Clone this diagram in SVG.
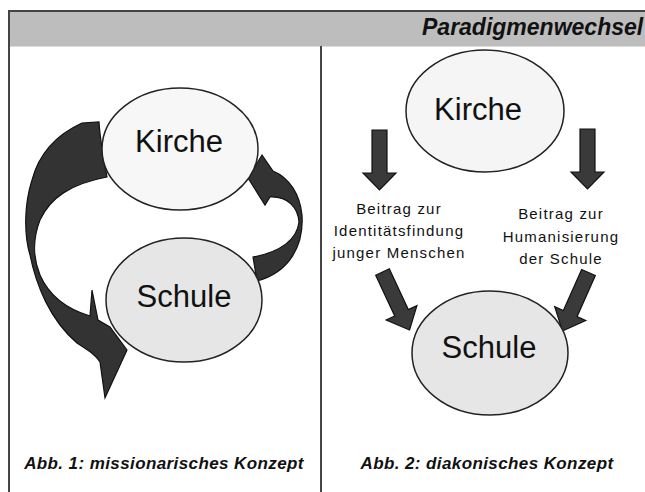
<svg xmlns="http://www.w3.org/2000/svg" width="645" height="492" viewBox="0 0 645 492">
<defs>
<style>
.bg{fill:#ffffff}
.frame{stroke:#444;stroke-width:2;fill:none}
.ell{stroke:#222;stroke-width:1.5}
.lbl{font-family:"Liberation Sans",Arial,sans-serif;fill:#111;text-anchor:middle}
.big{font-size:31px}
.small{font-size:15px;letter-spacing:1.2px}
.cap{font-family:"Liberation Sans",Arial,sans-serif;font-weight:bold;font-style:italic;font-size:17px;letter-spacing:0.4px;fill:#111;text-anchor:middle}
.arr{fill:#3a3a3a;stroke:#111;stroke-width:1.2;stroke-linejoin:miter}
.swirl{fill:#333;stroke:#111;stroke-width:1.2}
</style>
<path id="varr" d="M -7.5,0 H 7.5 V 43 H 16.5 L 0,60 L -16.5,43 H -7.5 Z"/>
<path id="darr" d="M -7.5,0 H 7.5 V 45 H 17 L 0,64 L -17,45 H -7.5 Z"/>
</defs>
<rect class="bg" x="0" y="0" width="645" height="492"/>
<g id="header">
<rect x="9" y="11" width="640" height="35" fill="#bdbdbd"/>
<line x1="8" y1="11" x2="645" y2="11" stroke="#444" stroke-width="2"/>
<line x1="9" y1="46.5" x2="645" y2="46.5" stroke="#dcdcdc" stroke-width="1"/>
<text x="422" y="35" font-family="'Liberation Sans',Arial,sans-serif" font-weight="bold" font-style="italic" font-size="23" fill="#111">Paradigmenwechsel</text>
</g>
<g id="frame">
<line x1="9" y1="10" x2="9" y2="492" stroke="#444" stroke-width="2"/>
<line x1="321" y1="46" x2="321" y2="492" stroke="#444" stroke-width="2"/>
</g>
<g id="connectors">
<path class="swirl" d="M 82,123 C 60,133 40,150 32,180 C 24,205 24,235 30,255 C 36,285 50,320 77,343 C 88,350 96,355 100,362 L 105,398 L 127,350 L 110,327 L 98,320 L 92,290 L 90,316 C 70,310 50,298 40,275 C 33,258 33,238 40,220 C 50,198 70,184 107,177 C 104,160 100,140 99,122 Z"/>
<path class="swirl" d="M 262,155 L 273,171 C 290,178 300,195 302,215 C 304,245 290,272 257,281 L 253,257 C 280,252 297,240 299,222 C 298,208 288,196 270,197 L 265,205 L 248,178 Z"/>
<use href="#varr" class="arr" transform="translate(379.5,130)"/>
<use href="#varr" class="arr" transform="translate(587.5,129)"/>
<use href="#darr" class="arr" transform="translate(382.5,272) rotate(-25)"/>
<use href="#darr" class="arr" transform="translate(588.5,272.5) rotate(24)"/>
</g>
<g id="kirche1">
<ellipse class="ell" cx="180" cy="149" rx="78" ry="61" fill="#f7f7f7"/>
<text class="lbl big" x="179" y="152">Kirche</text>
</g>
<g id="schule1">
<ellipse class="ell" cx="184" cy="300" rx="78" ry="62" fill="#e6e6e6"/>
<text class="lbl big" x="184" y="307">Schule</text>
</g>
<g id="kirche2">
<ellipse class="ell" cx="485" cy="111" rx="79" ry="61" fill="#f5f5f5"/>
<text class="lbl big" x="478" y="120">Kirche</text>
</g>
<g id="schule2">
<ellipse class="ell" cx="490" cy="353" rx="78" ry="62" fill="#e6e6e6"/>
<text class="lbl big" x="489" y="358">Schule</text>
</g>
<g id="label1">
<text class="lbl small" x="399" y="214">Beitrag zur</text>
<text class="lbl small" x="399" y="236">Identitätsfindung</text>
<text class="lbl small" x="399" y="258">junger Menschen</text>
</g>
<g id="label2">
<text class="lbl small" x="561" y="219">Beitrag zur</text>
<text class="lbl small" x="561" y="242">Humanisierung</text>
<text class="lbl small" x="561" y="264">der Schule</text>
</g>
<g id="captions">
<text class="cap" x="164" y="469">Abb. 1: missionarisches Konzept</text>
<text class="cap" x="487" y="469">Abb. 2: diakonisches Konzept</text>
</g>
</svg>
